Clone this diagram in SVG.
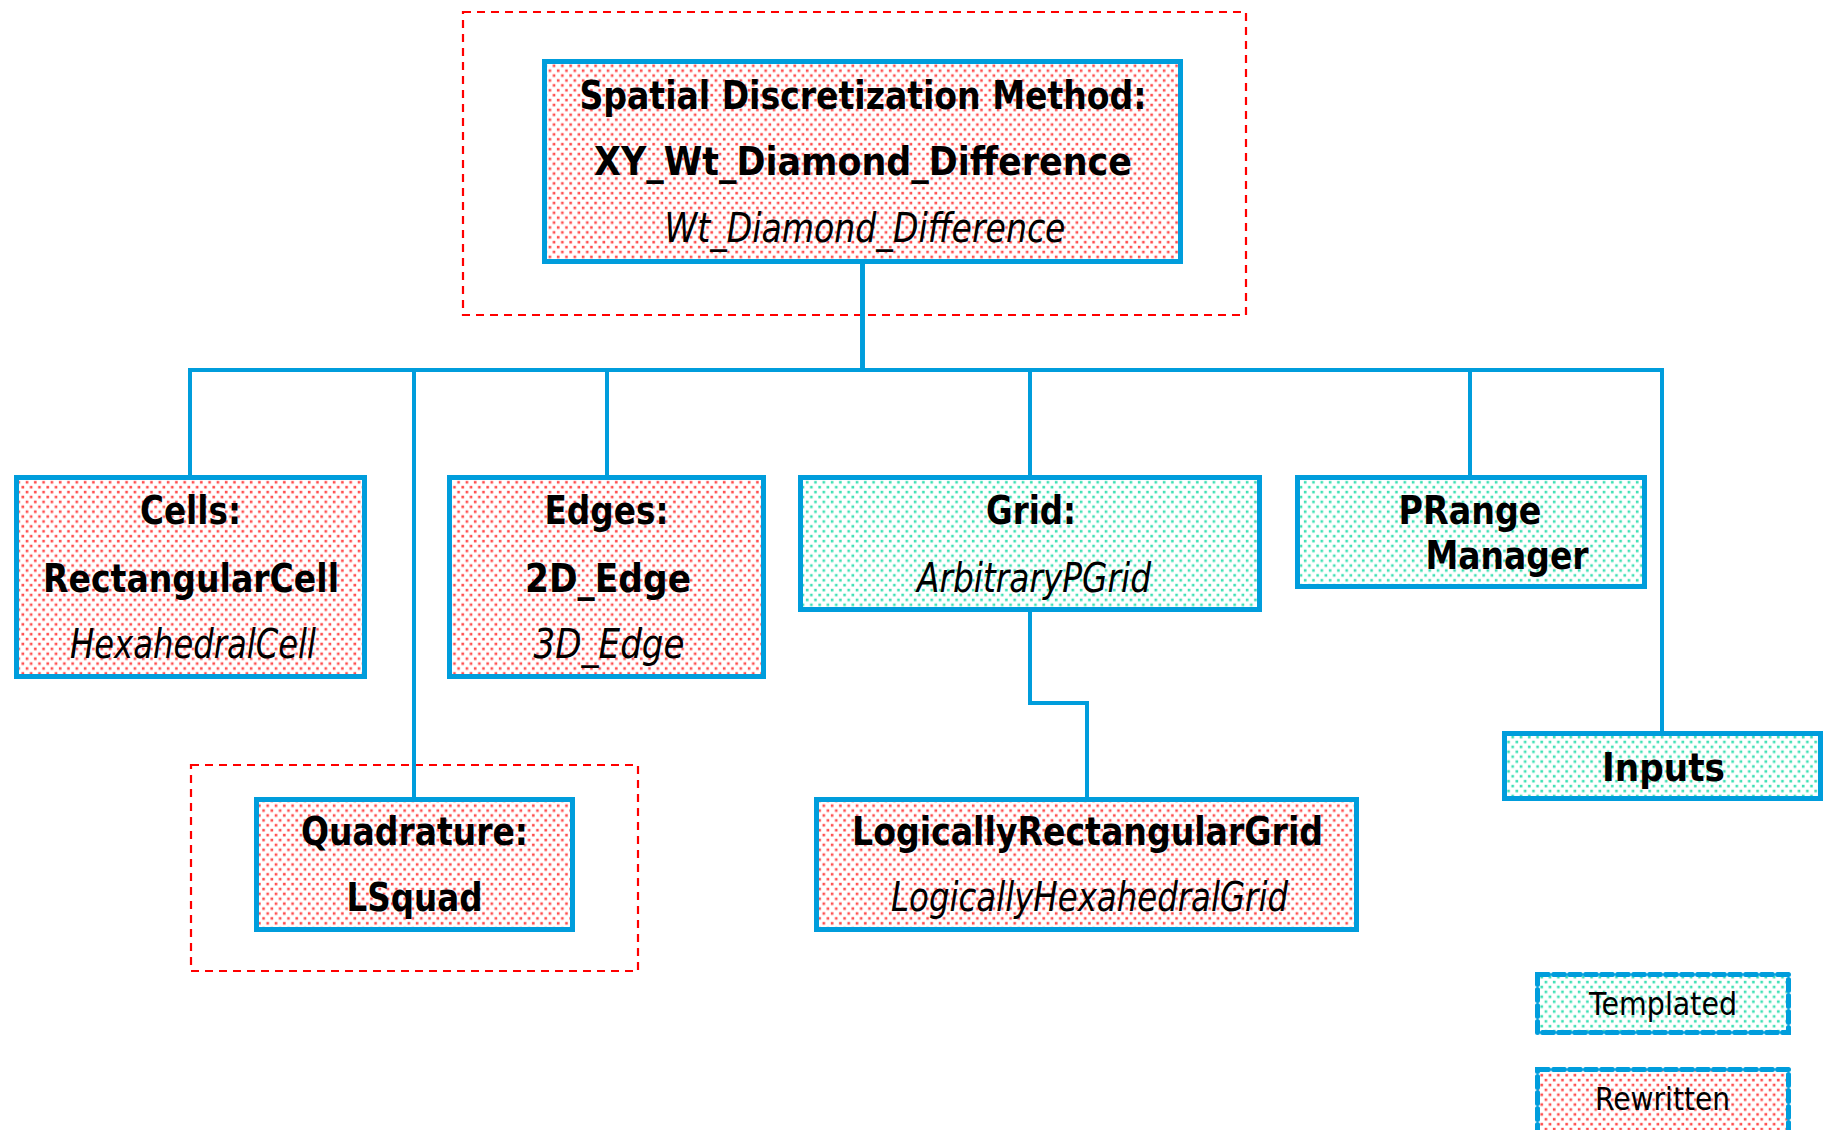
<svg xmlns="http://www.w3.org/2000/svg" width="1829" height="1130" viewBox="0 0 1829 1130">
  <defs>
    <pattern id="redDots" patternUnits="userSpaceOnUse" width="8.3" height="9.8">
      <rect width="8.3" height="9.8" fill="#ffffff"/>
      <rect x="0.8" y="0.8" width="2.6" height="2.6" fill="#ff4d4d"/>
      <rect x="4.95" y="5.7" width="2.6" height="2.6" fill="#ff4d4d"/>
    </pattern>
    <pattern id="tealDots" patternUnits="userSpaceOnUse" width="8.3" height="9.8">
      <rect width="8.3" height="9.8" fill="#ffffff"/>
      <rect x="0.8" y="0.8" width="2.6" height="2.6" fill="#3ee0b4"/>
      <rect x="4.95" y="5.7" width="2.6" height="2.6" fill="#3ee0b4"/>
    </pattern>
  </defs>
  <style>
    .rew { fill: url(#redDots); stroke: #009ddc; stroke-width: 5; }
    .tmp { fill: url(#tealDots); stroke: #009ddc; stroke-width: 5; }
    .leg { stroke-dasharray: 11 5; stroke-linecap: round; }
    .grp { fill: none; stroke: #ff0000; stroke-width: 2.2; stroke-dasharray: 8 6; }
    .conn { fill: none; stroke: #009ddc; stroke-width: 4; }
    text { font-family: "DejaVu Sans", Verdana, sans-serif; fill: #000; text-anchor: middle; }
    .b { font-weight: bold; font-size: 39px; }
    .i { font-style: italic; font-size: 41px; }
    .l { font-size: 32px; }
  </style>
  <rect width="1829" height="1130" fill="#ffffff"/>

  <g id="groups">
    <rect class="grp" x="463" y="12" width="783" height="303"/>
    <rect class="grp" x="191" y="765" width="447" height="206"/>
  </g>

  <g id="connectors">
    <path class="conn" d="M862.5 264 V370 H190 V475"/>
    <path class="conn" d="M862.5 264 V370 H414 V797"/>
    <path class="conn" d="M862.5 264 V370 H607 V475"/>
    <path class="conn" d="M862.5 264 V370 H1030 V475"/>
    <path class="conn" d="M862.5 264 V370 H1470 V475"/>
    <path class="conn" d="M862.5 264 V370 H1662 V731"/>
    <path class="conn" d="M1030 612 V703 H1087 V797"/>
  </g>

  <g id="node-sdm">
    <rect class="rew" x="544.5" y="61.5" width="636" height="200"/>
    <text class="b" x="863" y="109" textLength="567" lengthAdjust="spacingAndGlyphs">Spatial Discretization Method:</text>
    <text class="b" x="863" y="175" textLength="538" lengthAdjust="spacingAndGlyphs">XY_Wt_Diamond_Difference</text>
    <text class="i" x="865" y="242" textLength="401" lengthAdjust="spacingAndGlyphs">Wt_Diamond_Difference</text>
  </g>

  <g id="node-cells">
    <rect class="rew" x="16.5" y="477.5" width="348" height="199"/>
    <text class="b" x="190.5" y="524" textLength="101" lengthAdjust="spacingAndGlyphs">Cells:</text>
    <text class="b" x="191" y="592" textLength="296" lengthAdjust="spacingAndGlyphs">RectangularCell</text>
    <text class="i" x="193" y="658" textLength="246" lengthAdjust="spacingAndGlyphs">HexahedralCell</text>
  </g>

  <g id="node-edges">
    <rect class="rew" x="449.5" y="477.5" width="314" height="199"/>
    <text class="b" x="606.5" y="524" textLength="124" lengthAdjust="spacingAndGlyphs">Edges:</text>
    <text class="b" x="608" y="592" textLength="166" lengthAdjust="spacingAndGlyphs">2D_Edge</text>
    <text class="i" x="609" y="658" textLength="151" lengthAdjust="spacingAndGlyphs">3D_Edge</text>
  </g>

  <g id="node-grid">
    <rect class="tmp" x="800.5" y="477.5" width="459" height="132"/>
    <text class="b" x="1031" y="524" textLength="90" lengthAdjust="spacingAndGlyphs">Grid:</text>
    <text class="i" x="1034" y="592" textLength="234" lengthAdjust="spacingAndGlyphs">ArbitraryPGrid</text>
  </g>

  <g id="node-prange">
    <rect class="tmp" x="1297.5" y="477.5" width="347" height="109"/>
    <text class="b" x="1470" y="524" textLength="143" lengthAdjust="spacingAndGlyphs">PRange</text>
    <text class="b" x="1507" y="569" textLength="163" lengthAdjust="spacingAndGlyphs">Manager</text>
  </g>

  <g id="node-inputs">
    <rect class="tmp" x="1504.5" y="733.5" width="316" height="65"/>
    <text class="b" x="1663.5" y="781" textLength="123" lengthAdjust="spacingAndGlyphs">Inputs</text>
  </g>

  <g id="node-quadrature">
    <rect class="rew" x="256.5" y="799.5" width="316" height="130"/>
    <text class="b" x="414.5" y="845" textLength="227" lengthAdjust="spacingAndGlyphs">Quadrature:</text>
    <text class="b" x="414.5" y="911" textLength="136" lengthAdjust="spacingAndGlyphs">LSquad</text>
  </g>

  <g id="node-lrg">
    <rect class="rew" x="816.5" y="799.5" width="540" height="130"/>
    <text class="b" x="1087.5" y="845" textLength="471" lengthAdjust="spacingAndGlyphs">LogicallyRectangularGrid</text>
    <text class="i" x="1089.5" y="911" textLength="397" lengthAdjust="spacingAndGlyphs">LogicallyHexahedralGrid</text>
  </g>

  <g id="legend-templated">
    <rect class="tmp leg" x="1537.5" y="974.5" width="251" height="58"/>
    <text class="l" x="1663" y="1015" textLength="148" lengthAdjust="spacingAndGlyphs">Templated</text>
  </g>

  <g id="legend-rewritten">
    <rect class="rew leg" x="1537.5" y="1069.5" width="251" height="70"/>
    <text class="l" x="1662.5" y="1110" textLength="135" lengthAdjust="spacingAndGlyphs">Rewritten</text>
  </g>
</svg>
